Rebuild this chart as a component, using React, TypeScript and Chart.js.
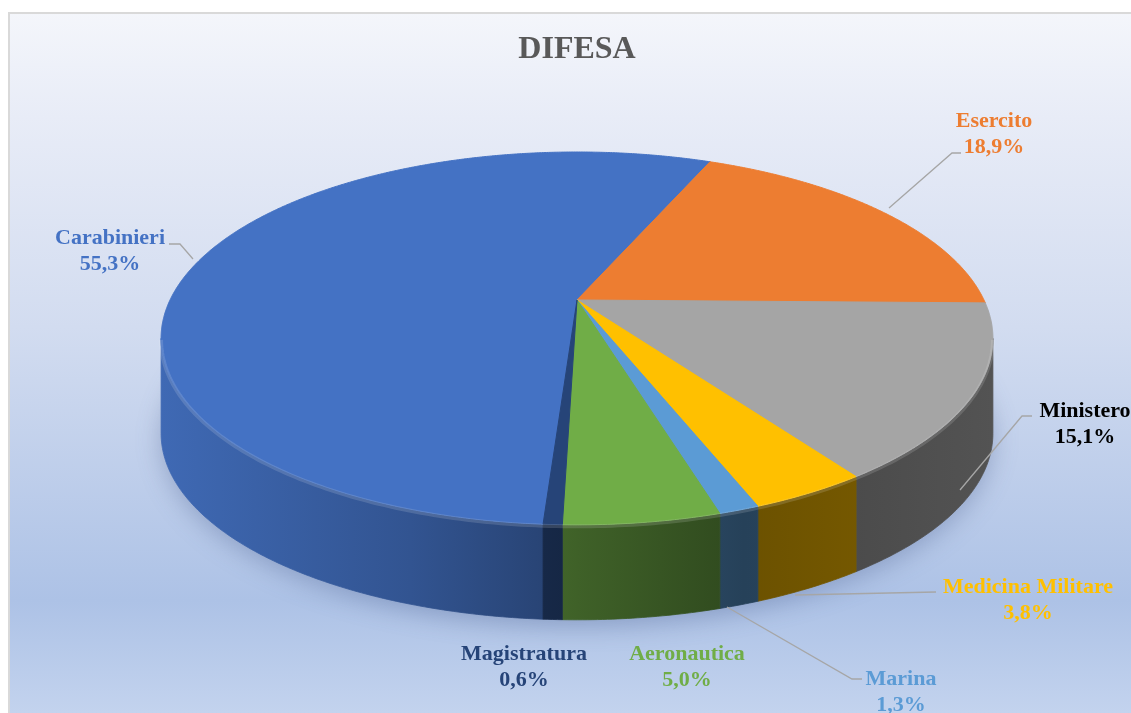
import React, { useEffect, useRef } from "react";
import { Chart, registerables } from "chart.js";

Chart.register(...registerables);

// ---- data ----
const categories = ["Carabinieri", "Esercito", "Ministero", "Medicina Militare", "Marina", "Aeronautica", "Magistratura"];
const values = [55.3, 18.9, 15.1, 3.8, 1.3, 5.0, 0.6];
const valueLabels = ["55,3%", "18,9%", "15,1%", "3,8%", "1,3%", "5,0%", "0,6%"];
const sliceColors = ["#4472C4", "#ED7D31", "#A5A5A5", "#FFC000", "#5B9BD5", "#70AD47", "#264478"];
const labelColors = ["#4472C4", "#ED7D31", "#000000", "#FFC000", "#5B9BD5", "#70AD47", "#264478"];
const chartTitle = "DIFESA";

// ---- layout: perspective of the tilted pie ----
const PX0 = 577; // projected centre x
const PY0 = 300; // projected centre y
const PA = 407; // horizontal scale
const PB = 178.5; // vertical scale
const PC = -0.206; // perspective factor
const DEPTH = 95;
const ROTATION = 183.8;
const FONT = "'Liberation Serif', 'Times New Roman', serif";
const TH_R = Math.asin(-PC);
const TH_L = Math.PI - TH_R;

const labelLayout: { x: number; y: number; leader: number[][] | null }[] = [
  { x: 110, y: 244, leader: [[169, 244], [180, 244], [193, 259]] },
  { x: 994, y: 127, leader: [[961, 153], [952, 153], [889, 208]] },
  { x: 1085, y: 417, leader: [[1032, 416], [1022, 416], [960, 490]] },
  { x: 1028, y: 593, leader: [[936, 592], [795, 595]] },
  { x: 901, y: 685, leader: [[862, 679], [852, 679], [727, 607]] },
  { x: 687, y: 660, leader: null },
  { x: 524, y: 660, leader: null },
];

function projUV(u: number, v: number): [number, number] {
  const w = 1 + PC * v;
  return [PX0 + (PA * u) / w, PY0 + (PB * v) / w];
}
function rimPt(t: number, dy = 0): [number, number] {
  const p = projUV(Math.cos(t), Math.sin(t));
  return [p[0], p[1] + dy];
}

function hexToRgb(hex: string) {
  const h = hex.replace("#", "");
  return [parseInt(h.slice(0, 2), 16), parseInt(h.slice(2, 4), 16), parseInt(h.slice(4, 6), 16)];
}
function shade(hex: string, f: number) {
  const [r, g, b] = hexToRgb(hex);
  return `rgb(${Math.round(r * f)},${Math.round(g * f)},${Math.round(b * f)})`;
}

const backgroundPlugin = {
  id: "bg",
  beforeDraw(chart: any) {
    const ctx = chart.ctx as CanvasRenderingContext2D;
    ctx.save();
    ctx.fillStyle = "#FFFFFF";
    ctx.fillRect(0, 0, chart.width, chart.height);
    const g = ctx.createLinearGradient(0, 12, 0, 713);
    g.addColorStop(0, "#F4F6FB");
    g.addColorStop(0.15, "#E8ECF7");
    g.addColorStop(0.45, "#D2DCF0");
    g.addColorStop(0.84, "#ADC2E6");
    g.addColorStop(1, "#C3D3EE");
    ctx.fillStyle = g;
    ctx.fillRect(8, 12, chart.width - 8, chart.height - 12);
    ctx.strokeStyle = "#D9D9D9";
    ctx.lineWidth = 2;
    ctx.beginPath();
    ctx.moveTo(9, chart.height);
    ctx.lineTo(9, 13);
    ctx.lineTo(chart.width, 13);
    ctx.stroke();
    ctx.restore();
  },
};

const pie3dPlugin = {
  id: "pie3d",
  beforeDatasetsDraw(chart: any) {
    const ctx = chart.ctx as any;
    const arcs = chart.getDatasetMeta(0).data as any[];
    if (!arcs.length) return;
    const TAU = Math.PI * 2;

    // soft shadow below the pie
    ctx.save();
    ctx.filter = "blur(12px)";
    ctx.fillStyle = "rgba(50,70,120,0.30)";
    ctx.beginPath();
    for (let i = 0; i <= 240; i++) {
      const p = rimPt((i / 240) * TAU, DEPTH + 6);
      i === 0 ? ctx.moveTo(p[0], p[1]) : ctx.lineTo(p[0], p[1]);
    }
    ctx.closePath();
    ctx.fill();
    ctx.restore();

    // side walls (visible front part only)
    arcs.forEach((arc, i) => {
      const s = arc.startAngle as number;
      const e = arc.endAngle as number;
      for (let k = -2; k <= 2; k++) {
        const a = Math.max(s + k * TAU, TH_R);
        const b = Math.min(e + k * TAU, TH_L);
        if (a < b) {
          const col = sliceColors[i];
          const g = ctx.createLinearGradient(PX0 - 416, 0, PX0 + 416, 0);
          g.addColorStop(0, shade(col, 0.92));
          g.addColorStop(0.3, shade(col, 0.74));
          g.addColorStop(0.5, shade(col, 0.56));
          g.addColorStop(0.7, shade(col, 0.42));
          g.addColorStop(1, shade(col, 0.5));
          const n = Math.max(2, Math.ceil((b - a) / 0.01));
          ctx.save();
          ctx.fillStyle = g;
          ctx.strokeStyle = g;
          ctx.lineWidth = 0.8;
          ctx.beginPath();
          for (let j = 0; j <= n; j++) {
            const p = rimPt(a + ((b - a) * j) / n);
            j === 0 ? ctx.moveTo(p[0], p[1]) : ctx.lineTo(p[0], p[1]);
          }
          for (let j = n; j >= 0; j--) {
            const p = rimPt(a + ((b - a) * j) / n, DEPTH);
            ctx.lineTo(p[0], p[1]);
          }
          ctx.closePath();
          ctx.fill();
          ctx.stroke();
          ctx.restore();
        }
      }
    });

    // perspective projection of the library's own slice paths
    const a0 = arcs[0];
    const cx = a0.x, cy = a0.y, R = a0.outerRadius;
    const proj = (x: number, y: number) => projUV((x - cx) / R, (y - cy) / R);
    const origLineTo = CanvasRenderingContext2D.prototype.lineTo;
    const origMoveTo = CanvasRenderingContext2D.prototype.moveTo;
    ctx.lineTo = function (x: number, y: number) {
      const p = proj(x, y);
      origLineTo.call(ctx, p[0], p[1]);
    };
    ctx.moveTo = function (x: number, y: number) {
      const p = proj(x, y);
      origMoveTo.call(ctx, p[0], p[1]);
    };
    ctx.arc = function (x: number, y: number, r: number, s: number, e: number, ccw?: boolean) {
      if (![x, y, r, s, e].every((q) => Number.isFinite(q))) return;
      if (r <= 0) {
        const p = proj(x, y);
        origLineTo.call(ctx, p[0], p[1]);
        return;
      }
      let sweep: number;
      if (!ccw) {
        sweep = e - s;
        sweep = sweep >= TAU ? TAU : ((sweep % TAU) + TAU) % TAU;
      } else {
        sweep = s - e;
        sweep = sweep >= TAU ? TAU : ((sweep % TAU) + TAU) % TAU;
        sweep = -sweep;
      }
      const n = Math.max(2, Math.ceil(Math.abs(sweep) / 0.005));
      for (let j = 0; j <= n; j++) {
        const t = s + (sweep * j) / n;
        const p = proj(x + r * Math.cos(t), y + r * Math.sin(t));
        origLineTo.call(ctx, p[0], p[1]);
      }
    };
  },
  afterDatasetsDraw(chart: any) {
    const ctx = chart.ctx as any;
    delete ctx.lineTo;
    delete ctx.moveTo;
    delete ctx.arc;
    // light rim on the front edge of the top face
    ctx.save();
    ctx.strokeStyle = "rgba(255,255,255,0.14)";
    ctx.lineWidth = 4;
    ctx.beginPath();
    const n = 200;
    for (let j = 0; j <= n; j++) {
      const p = rimPt(TH_R + ((TH_L - TH_R) * j) / n, 1.5);
      j === 0 ? ctx.moveTo(p[0], p[1]) : ctx.lineTo(p[0], p[1]);
    }
    ctx.stroke();
    ctx.restore();
  },
  afterDraw(chart: any) {
    const ctx = chart.ctx as CanvasRenderingContext2D;
    ctx.save();
    ctx.strokeStyle = "#A6A6A6";
    ctx.lineWidth = 1.3;
    labelLayout.forEach((l) => {
      if (!l.leader) return;
      ctx.beginPath();
      l.leader.forEach((p, j) => (j === 0 ? ctx.moveTo(p[0], p[1]) : ctx.lineTo(p[0], p[1])));
      ctx.stroke();
    });
    ctx.font = `bold 22px ${FONT}`;
    ctx.textAlign = "center";
    ctx.textBaseline = "alphabetic";
    labelLayout.forEach((l, i) => {
      ctx.fillStyle = labelColors[i];
      ctx.fillText(categories[i], l.x, l.y);
      ctx.fillText(valueLabels[i], l.x, l.y + 26);
    });
    ctx.restore();
  },
};

export default function App() {
  const ref = useRef<HTMLCanvasElement>(null);
  useEffect(() => {
    const canvas = ref.current!;
    const chart = new Chart(canvas, {
      type: "pie",
      data: {
        labels: categories,
        datasets: [
          {
            data: values,
            backgroundColor: sliceColors,
            borderColor: sliceColors,
            borderWidth: 1,
            radius: 200,
            rotation: ROTATION,
            clip: false,
          } as any,
        ],
      },
      options: {
        responsive: false,
        animation: false,
        devicePixelRatio: 1,
        events: [],
        layout: { padding: { left: 23 } },
        plugins: {
          legend: { display: false },
          tooltip: { enabled: false },
          title: {
            display: true,
            text: chartTitle,
            color: "#595959",
            font: { family: FONT, size: 32, weight: "bold" },
            padding: { top: 31, bottom: 10 },
          },
        },
      } as any,
      plugins: [backgroundPlugin, pie3dPlugin],
    });
    return () => chart.destroy();
  }, []);
  return (
    <div style={{ position: "fixed", left: 0, top: 0, width: 1131, height: 713 }}>
      <canvas ref={ref} width={1131} height={713} style={{ display: "block", width: 1131, height: 713 }} />
    </div>
  );
}
